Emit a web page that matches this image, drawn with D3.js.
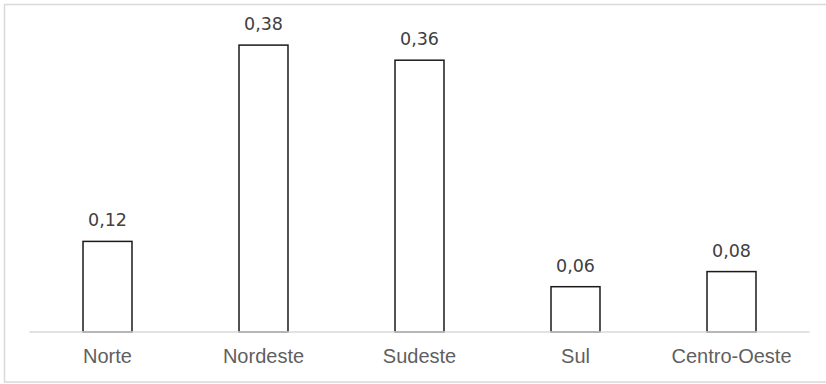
<!DOCTYPE html>
<html>
<head>
<meta charset="utf-8">
<script src="https://cdn.jsdelivr.net/npm/d3@7"></script>
<style>
  html, body { margin: 0; padding: 0; background: #fff; }
  svg { display: block; }
</style>
</head>
<body>
<div id="chart"></div>
<script>
// Regional shares
const regions = ["Norte", "Nordeste", "Sudeste", "Sul", "Centro-Oeste"];
const shares = [0.12, 0.38, 0.36, 0.06, 0.08];
const shareLabels = ["0,12", "0,38", "0,36", "0,06", "0,08"];

const width = 826, height = 384;
const svg = d3.select("#chart").append("svg")
  .attr("width", width).attr("height", height);

// chart frame
svg.append("rect")
  .attr("x", 4.5).attr("y", 4.5)
  .attr("width", width + 10).attr("height", 377.5)
  .attr("fill", "#fff")
  .attr("stroke", "#d9d9d9").attr("stroke-width", 1.5);

const baseY = 332;
const x = d3.scaleBand()
  .domain(regions)
  .range([29.5, 809.5])
  .paddingInner(0.686)
  .paddingOuter(0.343);

const y = d3.scaleLinear()
  .domain([0, 0.4])
  .range([baseY, baseY - 0.4 * 755]);

// bars
svg.append("g").selectAll("rect")
  .data(regions)
  .join("rect")
  .attr("x", d => x(d))
  .attr("y", (d, i) => y(shares[i]))
  .attr("width", x.bandwidth())
  .attr("height", (d, i) => baseY - y(shares[i]))
  .attr("fill", "#fff")
  .attr("stroke", "#1a1a1a")
  .attr("stroke-width", 1.5);

// category axis
const axis = svg.append("g")
  .attr("transform", `translate(0,${baseY})`)
  .call(d3.axisBottom(x).tickSize(0).tickPadding(17));
axis.select(".domain").attr("stroke", "#d9d9d9").attr("stroke-width", 1.5)
  .attr("d", "M29.5,0H809.5");
axis.selectAll("text")
  .attr("font-family", "'Liberation Sans', Arial, sans-serif")
  .attr("font-size", 20)
  .attr("fill", "#5f5f5f");

// value labels
svg.append("g").selectAll("text")
  .data(regions)
  .join("text")
  .attr("x", d => x(d) + x.bandwidth() / 2)
  .attr("y", (d, i) => y(shares[i]) - 15)
  .attr("text-anchor", "middle")
  .attr("font-family", "'DejaVu Sans', sans-serif")
  .attr("font-size", 17.5)
  .attr("fill", "#404040")
  .text((d, i) => shareLabels[i]);
</script>
</body>
</html>
